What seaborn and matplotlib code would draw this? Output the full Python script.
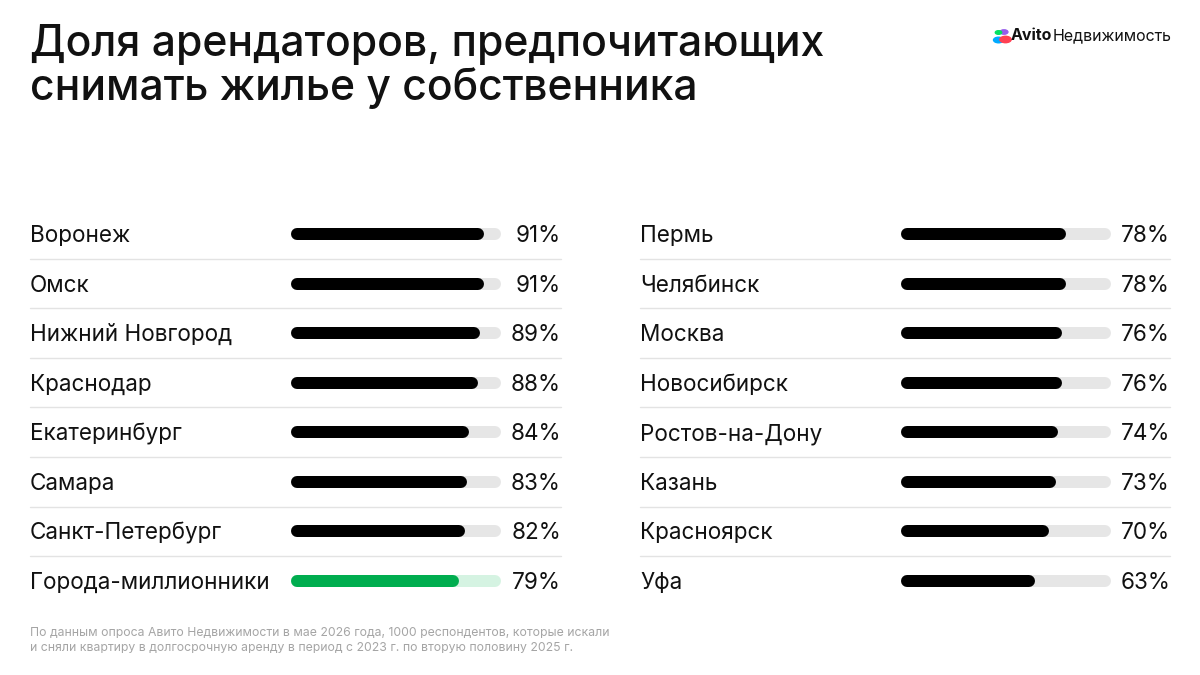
import matplotlib
matplotlib.use("Agg")
import matplotlib.pyplot as plt
import seaborn as sns
import pandas as pd
from matplotlib.patches import Circle
import matplotlib.transforms as mt

sns.set_theme(style="white")
plt.rcParams['font.family'] = ['Inter', 'DejaVu Sans']

left_cities = ["Воронеж", "Омск", "Нижний Новгород", "Краснодар", "Екатеринбург", "Самара", "Санкт-Петербург", "Города-миллионники"]
left_values = [91, 91, 89, 88, 84, 83, 82, 79]
right_cities = ["Пермь", "Челябинск", "Москва", "Новосибирск", "Ростов-на-Дону", "Казань", "Красноярск", "Уфа"]
right_values = [78, 78, 76, 76, 74, 73, 70, 63]
title = "Доля арендаторов, предпочитающих\nснимать жилье у собственника"
footer = ("По данным опроса Авито Недвижимости в мае 2026 года, 1000 респондентов, которые искали\n"
          "и сняли квартиру в долгосрочную аренду в период с 2023 г. по вторую половину 2025 г.")

W, H = 1200, 675
fig = plt.figure(figsize=(12, 6.75), dpi=100)
fig.patch.set_facecolor("white")

row_h = 49.57
top_px = 234 - row_h / 2
ax_h = 8 * row_h
bar_px = 12
lw_pt = bar_px * 72 / 100

def panel(x0, cities, values, highlight_last):
    ax = fig.add_axes([x0 / W, 1 - (top_px + ax_h) / H, 210 / W, ax_h / H])
    df = pd.DataFrame({"city": cities, "value": values, "full": [100] * len(values)})
    sns.barplot(data=df, x="full", y="city", ax=ax, color="#e6e6e6", width=0.24, orient="h")
    sns.barplot(data=df, x="value", y="city", ax=ax, color="black", width=0.24, orient="h")
    ax.set_xlim(0, 99)
    ax.set_ylim(7.5, -0.5)
    r = (bar_px / 2) / 2.1
    n = len(cities)
    for k, p in enumerate(ax.patches):
        i = k % n
        full = k < n
        x, w = p.get_x(), p.get_width()
        if full:
            w = 99
        yc = p.get_y() + p.get_height() / 2
        p.set_visible(False)
        if highlight_last and i == n - 1:
            col = "#d5f3e2" if full else "#00ad4f"
        else:
            col = "#e6e6e6" if full else "black"
        ax.plot([x + r, x + w - r], [yc, yc], color=col, lw=lw_pt, solid_capstyle="round", zorder=3 if not full else 2)
    tr = mt.blended_transform_factory(ax.transAxes, ax.transData)
    lx = (30 - x0) / 210 if x0 < 600 else (640 - x0) / 210
    rx = (561 - x0) / 210 if x0 < 600 else (1170 - x0) / 210
    for i, (c, v) in enumerate(zip(cities, values)):
        ax.text(lx, i + 0.04, c, transform=tr, ha="left", va="center", fontsize=16.2, color="#111111")
        ax.text(rx, i + 0.04, f"{v}%", transform=tr, ha="right", va="center", fontsize=16.2, color="#111111")
        if i < n - 1:
            ax.plot([lx, rx], [i + 0.5, i + 0.5], transform=tr, color="#e3e3e3", lw=1, clip_on=False)
    ax.set_axis_off()

panel(291, left_cities, left_values, True)
panel(901, right_cities, right_values, False)

fig.text(30 / W, 1 - 24 / H, title, ha="left", va="top", fontsize=30.7, fontweight=500, color="#111111", linespacing=1.05)
fig.text(30 / W, 1 - 627 / H, footer, ha="left", va="top", fontsize=8.8, color="#a5a5a5", linespacing=1.35)

# logo
for (cx, cy, c, rr) in [(998.5, 40, "#00aaff", 2.8), (1004, 32, "#965eeb", 2.2), (998.5, 32.5, "#04e061", 1.8), (1005.5, 39.5, "#ff4053", 3.2)]:
    fig.patches.append(Circle((cx / W, 1 - cy / H), rr / H, transform=fig.transFigure, color=c))
fig.text(1011 / W, 1 - 36 / H, "Avito", ha="left", va="center", fontsize=11.5, fontweight="bold", color="#111111")
fig.text(1053 / W, 1 - 36 / H, "Недвижимость", ha="left", va="center", fontsize=11.5, color="#111111")

fig.savefig("out.png", dpi=100, facecolor="white")
